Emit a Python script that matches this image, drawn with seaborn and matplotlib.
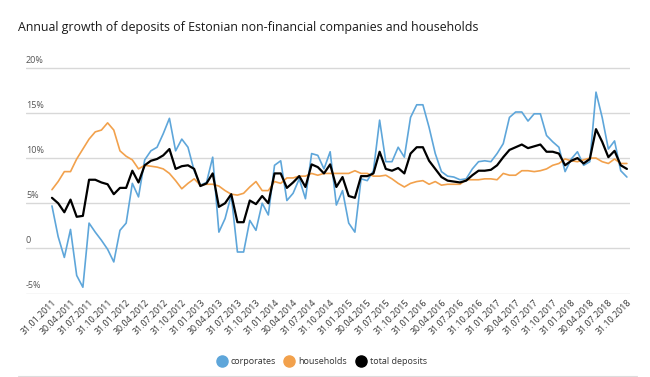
import matplotlib
matplotlib.use("Agg")
import matplotlib.pyplot as plt
import matplotlib.transforms as mtransforms
from matplotlib.lines import Line2D
import seaborn as sns
import pandas as pd

# ---------------- data ----------------
start_date = "2011-01-31"
end_date = "2018-10-31"

corporates = [4.7, 1.3, -1.0, 2.1, -3.0, -4.3, 2.8, 1.8, 0.9, -0.1,
              -1.5, 2.0, 2.8, 7.2, 5.7, 9.8, 10.8, 11.2, 12.7, 14.4,
              10.8, 12.1, 11.2, 8.6, 7.0, 7.3, 10.1, 1.8, 3.3, 5.9,
              -0.4, -0.4, 3.1, 2.0, 5.0, 3.7, 9.2, 9.7, 5.3, 6.1,
              7.7, 5.5, 10.5, 10.3, 8.8, 10.7, 4.8, 6.4, 2.8, 1.8,
              7.7, 7.5, 8.6, 14.2, 9.6, 9.6, 11.2, 10.1, 14.5, 15.9,
              15.9, 13.4, 10.5, 8.5, 8.0, 7.9, 7.6, 7.7, 8.8, 9.6,
              9.7, 9.6, 10.5, 11.6, 14.5, 15.1, 15.1, 14.1, 14.9, 14.9,
              12.5, 11.8, 11.2, 8.5, 9.9, 10.7, 9.2, 9.6, 17.3, 14.5,
              11.0, 11.9, 8.6, 7.9]

households = [6.5, 7.4, 8.5, 8.5, 9.9, 11.0, 12.1, 12.9, 13.1, 13.9,
              13.1, 10.8, 10.2, 9.8, 8.8, 9.2, 9.1, 9.0, 8.8, 8.3,
              7.5, 6.6, 7.2, 7.7, 7.0, 7.1, 7.1, 6.9, 6.4, 6.0,
              5.9, 6.1, 6.8, 7.4, 6.4, 6.4, 7.4, 7.2, 7.8, 7.8,
              8.0, 8.0, 8.3, 8.1, 8.3, 8.3, 8.3, 8.3, 8.3, 8.6,
              8.3, 8.3, 8.0, 8.0, 8.1, 7.7, 7.2, 6.8, 7.2, 7.4,
              7.5, 7.1, 7.4, 7.0, 7.1, 7.1, 7.1, 7.6, 7.6, 7.6,
              7.7, 7.7, 7.6, 8.3, 8.1, 8.1, 8.6, 8.6, 8.5, 8.6,
              8.8, 9.2, 9.4, 9.9, 9.7, 9.6, 9.8, 10.0, 10.0, 9.6,
              9.4, 9.9, 9.4, 9.4]

total_deposits = [5.6, 5.0, 4.0, 5.4, 3.5, 3.6, 7.6, 7.6, 7.3, 7.1,
                  6.0, 6.7, 6.7, 8.6, 7.3, 9.2, 9.7, 9.9, 10.3, 11.0,
                  8.8, 9.1, 9.2, 8.8, 6.9, 7.2, 8.3, 4.6, 5.0, 6.0,
                  2.9, 2.9, 5.3, 4.9, 5.8, 5.0, 8.3, 8.3, 6.7, 7.3,
                  8.0, 6.8, 9.3, 9.0, 8.3, 9.3, 6.8, 7.9, 5.8, 5.6,
                  8.0, 8.0, 8.3, 10.7, 8.8, 8.6, 8.9, 8.3, 10.5, 11.2,
                  11.2, 9.7, 8.8, 7.9, 7.5, 7.4, 7.3, 7.5, 8.1, 8.6,
                  8.6, 8.7, 9.2, 10.1, 10.9, 11.2, 11.5, 11.1, 11.3, 11.5,
                  10.7, 10.7, 10.5, 9.2, 9.7, 10.0, 9.4, 9.9, 13.2, 11.8,
                  10.1, 10.8, 9.2, 8.8]

series_names = ["corporates", "households", "total deposits"]
series_colors = ["#5ea6da", "#f2a14c", "#000000"]
y_ticks = [-5, 0, 5, 10, 15, 20]
y_tick_labels = ["-5%", "0", "5%", "10%", "15%", "20%"]
title = "Annual growth of deposits of Estonian non-financial companies and households"

# ---------------- build frame ----------------
dates = pd.date_range(start_date, end_date, freq="ME")
n = min(len(dates), len(corporates), len(households), len(total_deposits))
dates = dates[:n]
idx = list(range(n))
frames = []
for name, vals in zip(series_names, [corporates, households, total_deposits]):
    frames.append(pd.DataFrame({"idx": idx, "value": vals[:n], "series": name}))
df = pd.concat(frames, ignore_index=True)

# ---------------- plot ----------------
sns.set_theme(style="white")
plt.rcParams["font.family"] = ["Open Sans", "DejaVu Sans"]

fig = plt.figure(figsize=(6.5, 3.77), dpi=100)
ax = fig.add_axes([26 / 650, 1 - 294 / 377, (630 - 26) / 650, (294 - 67.3) / 377])

palette = dict(zip(series_names, series_colors))
sns.lineplot(data=df, x="idx", y="value", hue="series", palette=palette,
             hue_order=series_names, ax=ax, legend=False, linewidth=1.2,
             sort=False)
lines = ax.get_lines()
if len(lines) >= 3:
    lines[2].set_linewidth(1.6)
    lines[2].set_zorder(5)

ax.set_xlabel("")
ax.set_ylabel("")
ax.set_xlim(-4.2, 93.5)
ax.set_ylim(-5.05, 20.05)
for s in ax.spines.values():
    s.set_visible(False)

ax.set_yticks(y_ticks)
ax.set_yticklabels([])
ax.tick_params(axis="y", length=0)
ax.yaxis.grid(True, color="#d8d8d8", linewidth=1.0)
ax.xaxis.grid(False)

ytrans = mtransforms.blended_transform_factory(ax.transAxes, ax.transData)
for v, lab in zip(y_ticks, y_tick_labels):
    ax.text(0.0, v + 0.35, lab, transform=ytrans, ha="left", va="bottom",
            fontsize=6.5, color="#555555")

tick_idx = list(range(0, n, 3))
ax.set_xticks(tick_idx)
ax.set_xticklabels([dates[i].strftime("%d.%m.%Y") for i in tick_idx],
                   rotation=45, ha="right", va="top", rotation_mode="anchor",
                   fontsize=6.4, color="#333333")
ax.tick_params(axis="x", length=0, pad=3)

fig.text(18 / 650, 1 - 28 / 377, title, fontsize=8.9, color="#1a1a1a",
         ha="left", va="center")

handles = [Line2D([0], [0], marker="o", linestyle="", markersize=8,
                  markerfacecolor=c, markeredgecolor=c) for c in series_colors]
fig.legend(handles, series_names, loc="center", bbox_to_anchor=(322 / 650, 1 - 362 / 377),
           ncol=3, frameon=False, fontsize=6.5, handletextpad=0.5,
           columnspacing=1.0, labelcolor="#333333", handlelength=1.0)

fig.add_artist(Line2D([18 / 650, 637 / 650], [1 - 375.5 / 377, 1 - 375.5 / 377],
                      transform=fig.transFigure, color="#dddddd", linewidth=0.8))

fig.savefig("out.png", dpi=100)
